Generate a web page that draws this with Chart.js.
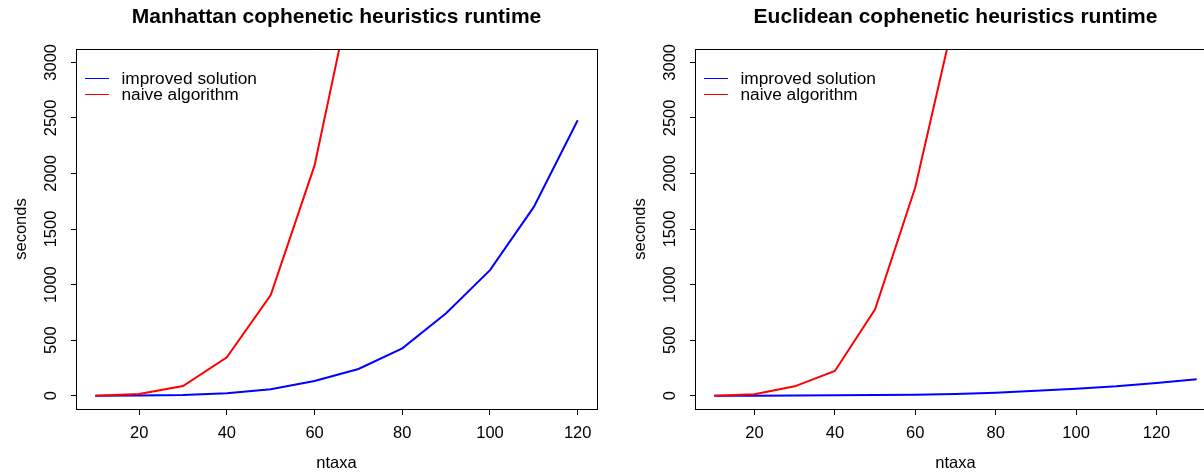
<!DOCTYPE html>
<html>
<head>
<meta charset="utf-8">
<script src="https://cdn.jsdelivr.net/npm/chart.js@4/dist/chart.umd.min.js"></script>
<style>
  html, body { margin: 0; padding: 0; background: #fff; overflow: hidden; }
  #wrap { position: relative; width: 1204px; height: 475px; overflow: hidden; }
  canvas { position: absolute; top: 0; }
  #manhattan { left: 0; }
  #euclidean { left: 602px; }
</style>
</head>
<body>
<div id="wrap">
  <canvas id="manhattan" width="602" height="475"></canvas>
  <canvas id="euclidean" width="625" height="475"></canvas>
</div>
<script>
// runtimes in seconds
const ntaxaManhattan = [10, 20, 30, 40, 50, 60, 70, 80, 90, 100, 110, 120];
const manhattanImproved = [0, 2, 6, 21, 57, 132, 240, 426, 741, 1130, 1699, 2479];
const manhattanNaive = [0, 15, 87, 345, 906, 2072, 3934];

const ntaxaEuclidean = [10, 20, 30, 40, 50, 60, 70, 80, 90, 100, 110, 120, 130];
const euclideanImproved = [0, 0, 1, 3, 5, 8, 14, 27, 45, 63, 84, 114, 147];
const euclideanNaive = [0, 12, 84, 222, 777, 1875, 3453];

const seriesLabels = ['improved solution', 'naive algorithm'];
const seriesColors = ['#0000ff', '#ff0000'];
const xTicks = [20, 40, 60, 80, 100, 120];
const yTicks = [0, 500, 1000, 1500, 2000, 2500, 3000];

Chart.defaults.font.family = '"Liberation Sans", Arial, Helvetica, sans-serif';
Chart.defaults.color = '#000';

function points(xs, ys) {
  return ys.map((y, i) => ({x: xs[i], y: y}));
}

// R-like box around the plot region
const plotBox = {
  id: 'plotBox',
  afterDraw(chart) {
    const {ctx, chartArea: a} = chart;
    ctx.save();
    ctx.strokeStyle = '#000';
    ctx.lineWidth = 1;
    ctx.strokeRect(a.left + 0.5, a.top + 0.5, a.right - a.left, a.bottom - a.top);
    ctx.restore();
  }
};

// R-like legend in the top left corner, no frame
const topLeftLegend = {
  id: 'topLeftLegend',
  afterDraw(chart) {
    const {ctx, chartArea: a} = chart;
    ctx.save();
    ctx.font = '17.3px "Liberation Sans", Arial, sans-serif';
    ctx.textBaseline = 'middle';
    ctx.textAlign = 'left';
    chart.data.datasets.forEach((ds, i) => {
      const y = a.top + 29.5 + i * 16;
      ctx.strokeStyle = ds.borderColor;
      ctx.lineWidth = 1;
      ctx.beginPath();
      ctx.moveTo(a.left + 9, y);
      ctx.lineTo(a.left + 33, y);
      ctx.stroke();
      ctx.fillStyle = '#000';
      ctx.fillText(ds.label, a.left + 45.5, y + 1);
    });
    ctx.restore();
  }
};

function makeChart(id, title, xs, improved, naive, xMin, xMax, padLeft, padRight) {
  return new Chart(document.getElementById(id), {
    type: 'line',
    data: {
      datasets: [
        {
          label: seriesLabels[0],
          data: points(xs, improved),
          borderColor: seriesColors[0],
          borderWidth: 2,
          pointRadius: 0,
          tension: 0,
          clip: 0,
          order: 1
        },
        {
          label: seriesLabels[1],
          data: points(xs, naive),
          borderColor: seriesColors[1],
          borderWidth: 2,
          pointRadius: 0,
          tension: 0,
          clip: 0,
          order: 0
        }
      ]
    },
    options: {
      responsive: false,
      animation: false,
      layout: {padding: {left: padLeft, right: padRight, top: 0, bottom: 0}},
      plugins: {
        legend: {display: false},
        tooltip: {enabled: false},
        title: {
          display: true,
          text: title,
          fullSize: false,
          font: {size: 21, weight: 'bold'},
          padding: {top: 5, bottom: 18.8}
        }
      },
      scales: {
        x: {
          type: 'linear',
          min: xMin,
          max: xMax,
          border: {display: false},
          grid: {drawOnChartArea: false, drawTicks: true, tickLength: 6, color: '#000'},
          ticks: {
            font: {size: 16.5},
            padding: 8.5,
            autoSkip: false,
            maxRotation: 0,
            callback: v => String(v)
          },
          afterBuildTicks: s => { s.ticks = xTicks.map(v => ({value: v})); },
          afterFit: s => { s.height = 66; },
          title: {display: true, text: 'ntaxa', font: {size: 16.5}, padding: {top: 0, bottom: 1.6}}
        },
        y: {
          min: -120,
          max: 3120,
          border: {display: false},
          grid: {drawOnChartArea: false, drawTicks: true, tickLength: 5, color: '#000'},
          ticks: {
            font: {size: 16.5},
            padding: 1.6,
            autoSkip: false,
            minRotation: 90,
            maxRotation: 90,
            crossAlign: 'center',
            callback: v => String(v)
          },
          afterBuildTicks: s => { s.ticks = yTicks.map(v => ({value: v})); },
          afterFit: s => { s.width = 76; },
          title: {display: true, text: 'seconds', font: {size: 16.5}, padding: {top: 11.5, bottom: 0}}
        }
      }
    },
    plugins: [plotBox, topLeftLegend]
  });
}

makeChart('manhattan', 'Manhattan cophenetic heuristics runtime',
  ntaxaManhattan, manhattanImproved, manhattanNaive, 5.6, 124.4, 0, 5);
makeChart('euclidean', 'Euclidean cophenetic heuristics runtime',
  ntaxaEuclidean, euclideanImproved, euclideanNaive, 5.2, 134.8, 17, 11);
</script>
</body>
</html>
